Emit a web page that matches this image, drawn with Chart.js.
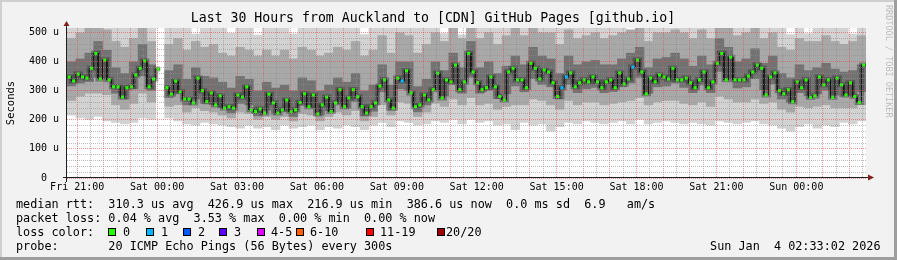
<!DOCTYPE html>
<html lang="en">
<head>
<meta charset="UTF-8">
<title>Last 30 Hours from Auckland to [CDN] GitHub Pages [github.io]</title>
<script src="https://cdn.jsdelivr.net/npm/chart.js"></script>
<style>
    body { margin: 0; background: #f2f2f2; }
    canvas { display: block; }
</style>
</head>
<body>
<canvas id="smoke" width="897" height="260"></canvas>
<script>
// median rtt per 10 minute step (us), 180 steps, left edge = Fri 20:37
const medianRtt = [
    347, 333, 357, 347, 343, 377, 428, 340, 405, 337,
    313, 313, 278, 310, 313, 354, 377, 402, 313, 340,
    374, null, 310, 288, 333, 296, 271, 271, 258, 343,
    300, 262, 292, 251, 282, 240, 245, 240, 285, 278,
    313, 234, 228, 237, 223, 288, 258, 223, 234, 268,
    228, 234, 259, 289, 245, 285, 220, 251, 278, 228,
    258, 303, 245, 275, 303, 279, 245, 223, 245, 258,
    316, 337, 268, 240, 343, 333, 368, 292, 245, 251,
    285, 268, 303, 360, 275, 337, 330, 388, 303, 330,
    428, 364, 327, 303, 310, 347, 313, 280, 268, 364,
    377, 337, 337, 310, 394, 377, 340, 371, 364, 327,
    280, 310, 347, 361, 313, 327, 337, 330, 347, 330,
    310, 330, 337, 310, 361, 323, 340, 381, 405, 364,
    289, 343, 330, 354, 347, 340, 377, 337, 337, 343,
    327, 310, 337, 364, 310, 330, 394, 428, 337, 415,
    337, 337, 337, 350, 364, 388, 377, 285, 347, 361,
    300, 289, 303, 262, 330, 310, 337, 277, 282, 347,
    320, 337, 277, 343, 320, 285, 327, 280, 259, 388
];
// steps where 1 of 20 pings was lost
const oneLossSteps = [75, 111, 112, 127];

// smoke per 20 minute step (us), 90 steps
const smokeMin = [
    215, 205, 200, 210, 195, 190, 185, 190, 205, 200,
    null, 205, 195, 185, 180, 190, 185, 180, 175, 170,
    180, 170, 175, 165, 180, 170, 175, 180, 165, 175,
    170, 180, 175, 165, 180, 190, 175, 195, 190, 180,
    185, 195, 190, 200, 185, 200, 190, 195, 180, 185,
    165, 190, 180, 185, 160, 175, 190, 185, 195, 190,
    185, 190, 195, 185, 200, 185, 190, 195, 190, 185,
    190, 185, 180, 195, 190, 185, 190, 195, 185, 180,
    170, 160, 175, 185, 170, 180, 175, 190, 185, 195
];
const smokeP10 = [
    265, 280, 290, 290, 285, 250, 235, 255, 290, 260,
    null, 245, 250, 225, 240, 230, 225, 215, 205, 225,
    220, 200, 210, 200, 210, 195, 220, 215, 195, 210,
    225, 215, 230, 195, 210, 250, 215, 260, 255, 210,
    225, 255, 245, 270, 250, 275, 250, 255, 235, 245,
    250, 250, 270, 265, 250, 235, 265, 250, 260, 260,
    250, 255, 260, 265, 275, 250, 260, 265, 265, 255,
    250, 260, 245, 280, 270, 260, 260, 270, 255, 260,
    235, 225, 245, 240, 245, 250, 240, 240, 240, 250
];
const smokeP30 = [
    315, 325, 330, 345, 340, 290, 270, 305, 350, 300,
    null, 275, 290, 250, 270, 255, 250, 240, 222, 255,
    250, 212, 232, 218, 228, 210, 248, 240, 215, 230,
    255, 238, 262, 212, 228, 295, 232, 305, 300, 226,
    250, 300, 280, 320, 290, 345, 290, 300, 272, 288,
    315, 295, 340, 320, 312, 270, 320, 292, 305, 310,
    292, 296, 312, 325, 345, 290, 312, 315, 325, 310,
    292, 318, 292, 365, 340, 308, 312, 340, 302, 322,
    270, 258, 292, 282, 288, 300, 284, 278, 280, 295
];
const smokeP70 = [
    400, 410, 430, 470, 440, 380, 360, 400, 460, 390,
    null, 370, 390, 340, 380, 350, 345, 330, 310, 350,
    340, 300, 330, 310, 320, 300, 345, 335, 300, 320,
    345, 330, 360, 300, 320, 390, 320, 400, 400, 315,
    340, 400, 370, 430, 380, 470, 380, 400, 360, 385,
    420, 390, 450, 420, 410, 360, 420, 390, 400, 405,
    390, 390, 410, 430, 450, 380, 410, 415, 430, 410,
    385, 420, 390, 480, 450, 400, 410, 445, 395, 420,
    360, 345, 390, 370, 380, 395, 375, 365, 370, 390
];
const smokeP90 = [
    480, 500, 520, 520, 510, 470, 450, 480, 520, 470,
    null, 460, 480, 440, 470, 450, 460, 430, 420, 450,
    440, 420, 440, 420, 440, 410, 450, 440, 420, 430,
    450, 440, 470, 420, 440, 490, 430, 500, 490, 430,
    460, 500, 470, 520, 480, 520, 480, 500, 460, 490,
    520, 490, 520, 500, 500, 460, 510, 480, 490, 500,
    480, 490, 500, 510, 520, 470, 500, 500, 510, 500,
    480, 510, 480, 520, 520, 490, 500, 520, 480, 500,
    450, 440, 480, 470, 470, 490, 470, 460, 470, 490
];
const smokeMax = [
    540, 540, 540, 540, 540, 540, 540, 540, 540, 540,
    null, 540, 540, 540, 495, 540, 540, 540, 498, 540,
    540, 492, 540, 540, 540, 496, 540, 540, 540, 540,
    540, 540, 540, 494, 540, 540, 540, 540, 540, 540,
    540, 540, 497, 540, 493, 540, 540, 540, 540, 540,
    540, 540, 540, 540, 540, 540, 540, 540, 540, 540,
    540, 540, 540, 496, 540, 540, 540, 540, 540, 540,
    540, 540, 540, 540, 540, 540, 540, 540, 540, 540,
    540, 494, 540, 497, 540, 540, 540, 540, 495, 540
];

const hourTickLabels = ['Fri 21:00', 'Sat 00:00', 'Sat 03:00', 'Sat 06:00', 'Sat 09:00',
    'Sat 12:00', 'Sat 15:00', 'Sat 18:00', 'Sat 21:00', 'Sun 00:00'];
const yTickLabels = ['0  ', '100 u', '200 u', '300 u', '400 u', '500 u'];

const lossLabels = ['0', '1', '2', '3', '4-5', '6-10', '11-19', '20/20'];
const lossColors = ['#26ff00', '#00b8ff', '#0059ff', '#5e00ff', '#dd00ff', '#ff5e00', '#ff0000', '#a10000'];

const statsRtt = 'median rtt:  310.3 us avg  426.9 us max  216.9 us min  386.6 us now  0.0 ms sd  6.9   am/s';
const statsLoss = 'packet loss: 0.04 % avg  3.53 % max  0.00 % min  0.00 % now';
const probeText = 'probe:       20 ICMP Echo Pings (56 Bytes) every 300s';
const stampText = 'Sun Jan  4 02:33:02 2026';

const MONO = '"DejaVu Sans Mono", monospace';
const RED = 'rgba(222, 79, 79, 0.6)';
const GREY = 'rgba(143, 143, 143, 0.6)';
const STEP = 10;        // minutes per median step
const SMOKE_STEP = 20;  // minutes per smoke step
const FIRST_HOUR = 23;  // minutes from left edge to Fri 21:00

// ticks: every half hour on x, every 20 us on y
const xTicks = [];
for (let m = FIRST_HOUR; m < 1800; m += 30) xTicks.push(m);
const yTicks = [];
for (let v = 0; v <= 500; v += 20) yTicks.push(v);

// median as a stepped path, plus one dot per step
const medianPath = [];
const dots = [];
const dotColors = [];
medianRtt.forEach((v, i) => {
    if (v === null) {
        medianPath.push({ x: i * STEP + STEP / 2, y: null });
        return;
    }
    medianPath.push({ x: i * STEP, y: v }, { x: (i + 1) * STEP, y: v });
    dots.push({ x: i * STEP + STEP / 2, y: v });
    dotColors.push(lossColors[oneLossSteps.includes(i) ? 1 : 0]);
});

function band(lo, hi) {
    const out = [];
    lo.forEach((v, k) => {
        if (v !== null) out.push({ x: k * SMOKE_STEP + SMOKE_STEP / 2, y: [v, hi[k]] });
    });
    return out;
}

const frame = {
    id: 'frame',
    beforeDraw(chart) {
        const { ctx, chartArea: a } = chart;
        ctx.save();
        ctx.fillStyle = '#f2f2f2';
        ctx.fillRect(0, 0, chart.width, chart.height);
        ctx.fillStyle = '#ffffff';
        ctx.fillRect(a.left, a.top, a.right - a.left, a.bottom - a.top);
        ctx.restore();
    },
    afterDraw(chart) {
        const { ctx, chartArea: a } = chart;
        ctx.save();

        // axes and arrows
        ctx.strokeStyle = '#1f1f1f';
        ctx.lineWidth = 1;
        ctx.beginPath();
        ctx.moveTo(a.left - 4, a.bottom - 0.5);
        ctx.lineTo(a.right + 2, a.bottom - 0.5);
        ctx.moveTo(a.left - 0.5, a.bottom + 4);
        ctx.lineTo(a.left - 0.5, a.top - 2);
        ctx.stroke();
        ctx.fillStyle = '#801f1f';
        ctx.beginPath();
        ctx.moveTo(a.right + 2, a.bottom - 3.5);
        ctx.lineTo(a.right + 8, a.bottom - 0.5);
        ctx.lineTo(a.right + 2, a.bottom + 2.5);
        ctx.fill();
        ctx.beginPath();
        ctx.moveTo(a.left - 3.5, a.top - 2);
        ctx.lineTo(a.left - 0.5, a.top - 7);
        ctx.lineTo(a.left + 2.5, a.top - 2);
        ctx.fill();

        // watermark
        ctx.save();
        ctx.translate(888, 5);
        ctx.rotate(Math.PI / 2);
        ctx.font = '8.5px ' + MONO;
        ctx.fillStyle = '#bdbdbd';
        ctx.textBaseline = 'middle';
        ctx.fillText('RRDTOOL / TOBI OETIKER', 0, 0);
        ctx.restore();

        // legend rows
        ctx.font = '11.8px ' + MONO;
        ctx.fillStyle = '#000';
        ctx.textBaseline = 'alphabetic';
        ctx.fillText(statsRtt, 16, 208);
        ctx.fillText(statsLoss, 16, 222);
        ctx.fillText('loss color:', 16, 236);
        ctx.fillText(probeText, 16, 250);
        const boxX = [108, 146, 183, 219, 257, 296, 366, 437];
        const textX = [123, 161, 198, 234, 271, 310, 380, 446];
        lossLabels.forEach((lab, i) => {
            ctx.fillStyle = lossColors[i];
            ctx.fillRect(boxX[i], 228, 8, 8);
            ctx.strokeStyle = '#000';
            ctx.strokeRect(boxX[i] + 0.5, 228.5, 7, 7);
            ctx.fillStyle = '#000';
            ctx.fillText(lab, textX[i], 236);
        });
        ctx.textAlign = 'right';
        ctx.fillText(stampText, 880.5, 250);

        // outer frame
        ctx.fillStyle = '#cfcfcf';
        ctx.fillRect(0, 0, chart.width, 2);
        ctx.fillRect(0, 0, 2, chart.height);
        ctx.fillStyle = '#9e9e9e';
        ctx.fillRect(0, chart.height - 3, chart.width, 3);
        ctx.fillRect(chart.width - 3, 0, 3, chart.height);
        ctx.restore();
    }
};

new Chart(document.getElementById('smoke'), {
    type: 'bar',
    data: {
        datasets: [
            {
                type: 'line', data: dots, showLine: false, pointStyle: 'rect', pointRadius: 2.2,
                pointBackgroundColor: dotColors, pointBorderWidth: 0, order: 0
            },
            {
                type: 'line', data: medianPath, borderColor: '#141414', borderWidth: 1,
                pointRadius: 0, spanGaps: false, fill: false, order: 1
            },
            {
                // darker core of the smoke round the median
                type: 'line', data: medianPath, borderColor: 'rgba(40, 40, 40, 0.42)', borderWidth: 5,
                pointRadius: 0, spanGaps: false, fill: false, order: 2
            },
            { data: band(smokeP30, smokeP70), backgroundColor: '#727272', order: 3 },
            { data: band(smokeP10, smokeP90), backgroundColor: '#a8a8a8', order: 4 },
            { data: band(smokeMin, smokeMax), backgroundColor: '#d2d2d2', order: 5 }
        ]
    },
    options: {
        responsive: false,
        animation: false,
        devicePixelRatio: 1,
        events: [],
        layout: { padding: { left: 0, right: 31, top: 0, bottom: 0 } },
        datasets: {
            bar: { grouped: false, barPercentage: 1.06, categoryPercentage: 1, borderWidth: 0 }
        },
        plugins: {
            legend: { display: false },
            tooltip: { enabled: false },
            title: {
                display: true,
                text: 'Last 30 Hours from Auckland to [CDN] GitHub Pages [github.io]',
                color: '#000',
                font: { family: MONO, size: 13.2, weight: 'normal' },
                padding: { top: 11, bottom: 1.2 }
            }
        },
        scales: {
            x: {
                type: 'linear', min: 0, max: 1800, offset: false,
                afterBuildTicks: s => { s.ticks = xTicks.map(v => ({ value: v })); },
                afterFit: s => { s.height = 82; },
                grid: {
                    color: c => (c.tick && (c.tick.value - FIRST_HOUR) % 60 === 0) ? RED : GREY,
                    drawTicks: false, offset: false, z: 1
                },
                border: { display: false, dash: [1, 1] },
                ticks: {
                    autoSkip: false, maxRotation: 0, minRotation: 0, padding: 3, color: '#000',
                    font: { family: MONO, size: 10 },
                    callback: v => (v - FIRST_HOUR) % 180 === 0 ? hourTickLabels[(v - FIRST_HOUR) / 180] : ''
                }
            },
            y: {
                min: 0, max: 515,
                afterBuildTicks: s => { s.ticks = yTicks.map(v => ({ value: v })); },
                afterFit: s => { s.width = 67; },
                grid: {
                    color: c => (c.tick && c.tick.value % 100 === 0) ? RED : GREY,
                    drawTicks: false, z: 1
                },
                border: { display: false, dash: [1, 1] },
                ticks: {
                    autoSkip: false, padding: 8, color: '#000',
                    font: { family: MONO, size: 10 },
                    callback: v => v % 100 === 0 ? yTickLabels[v / 100] : ''
                },
                title: {
                    display: true, text: 'Seconds', color: '#000',
                    font: { family: MONO, size: 10.5 },
                    padding: { top: 5, bottom: 0 }
                }
            }
        }
    },
    plugins: [frame]
});
</script>
</body>
</html>
